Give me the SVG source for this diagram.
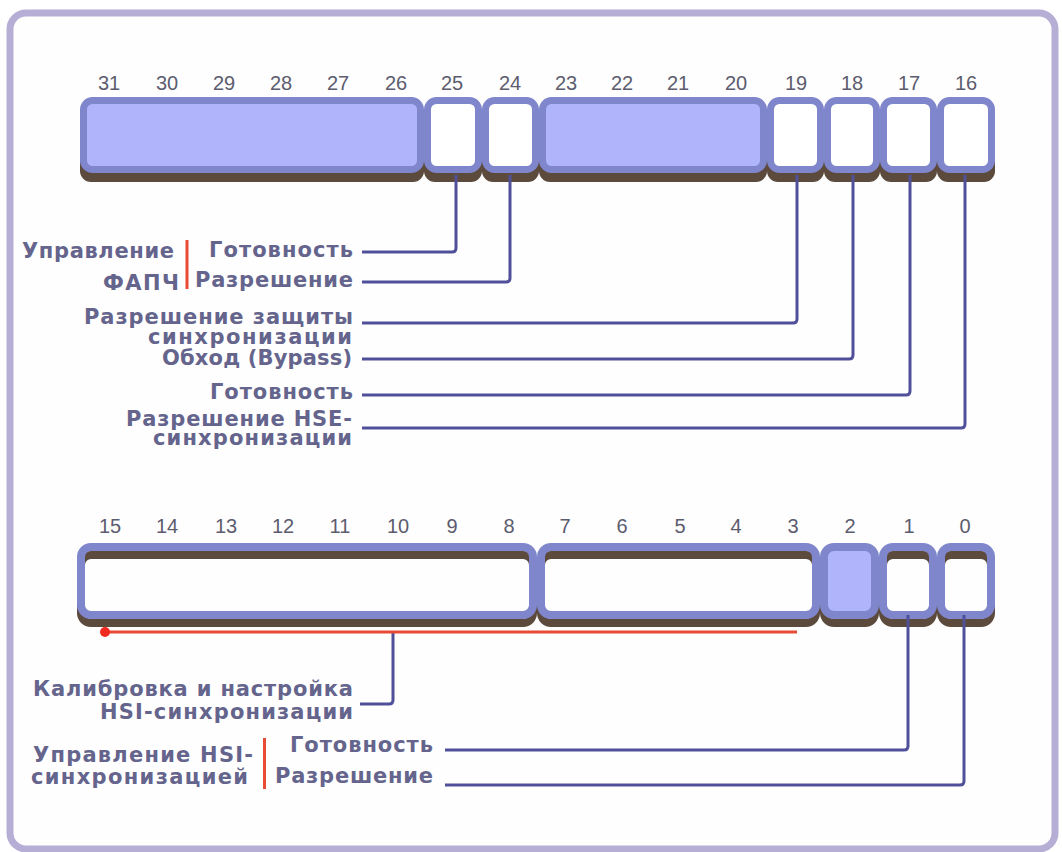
<svg xmlns="http://www.w3.org/2000/svg" width="1062" height="852" viewBox="0 0 1062 852">
<style>
.num{font-family:"Liberation Sans",Arial,sans-serif;font-size:20px;fill:#5c5c6e;text-anchor:middle}
.lbl{font-family:"DejaVu Sans","Liberation Sans",sans-serif;font-size:21px;font-weight:bold;fill:#64648c}
.sh{fill:#5c4a3c}
.shr{fill:none;stroke:#5c4a3c;stroke-width:8}
.bx{stroke:#7f86cc;stroke-width:7}
.bxr{stroke:#7f86cc;stroke-width:8}
.w{fill:#ffffff}
.l{fill:#b0b4fa}
.n{fill:none}
.con{fill:none;stroke:#50509a;stroke-width:3;stroke-linejoin:round}
.red{fill:none;stroke:#e84a34;stroke-width:3}
</style>
<rect x="0" y="0" width="1062" height="852" fill="#ffffff"/>
<rect id="frame" x="10" y="13" width="1045" height="836" rx="16" fill="#fefefe" stroke="#b7aed5" stroke-width="7"/>

<g id="top-numbers">
<text class="num" x="109" y="90">31</text><text class="num" x="167" y="90">30</text><text class="num" x="224" y="90">29</text><text class="num" x="281" y="90">28</text>
<text class="num" x="338" y="90">27</text><text class="num" x="396" y="90">26</text><text class="num" x="452" y="90">25</text><text class="num" x="510" y="90">24</text>
<text class="num" x="566" y="90">23</text><text class="num" x="622" y="90">22</text><text class="num" x="678" y="90">21</text><text class="num" x="736" y="90">20</text>
<text class="num" x="796" y="90">19</text><text class="num" x="852" y="90">18</text><text class="num" x="909" y="90">17</text><text class="num" x="966" y="90">16</text>
</g>

<g id="top-shadows">
<rect class="sh" x="80" y="106" width="344" height="76" rx="11"/>
<rect class="sh" x="424" y="106" width="58" height="76" rx="11"/>
<rect class="sh" x="482" y="106" width="57" height="76" rx="11"/>
<rect class="sh" x="539" y="106" width="228" height="76" rx="11"/>
<rect class="sh" x="767" y="106" width="57" height="76" rx="11"/>
<rect class="sh" x="824" y="106" width="56" height="76" rx="11"/>
<rect class="sh" x="880" y="106" width="57" height="76" rx="11"/>
<rect class="sh" x="937" y="106" width="58" height="76" rx="11"/>
</g>
<g id="bits-31-26"><rect class="bx l" x="83.5" y="100.5" width="337" height="69" rx="9"/></g>
<g id="bit-25"><rect class="bx w" x="427.5" y="100.5" width="51" height="69" rx="9"/></g>
<g id="bit-24"><rect class="bx w" x="485.5" y="100.5" width="50" height="69" rx="9"/></g>
<g id="bits-23-20"><rect class="bx l" x="542.5" y="100.5" width="221" height="69" rx="9"/></g>
<g id="bit-19"><rect class="bx w" x="770.5" y="100.5" width="50" height="69" rx="9"/></g>
<g id="bit-18"><rect class="bx w" x="827.5" y="100.5" width="49" height="69" rx="9"/></g>
<g id="bit-17"><rect class="bx w" x="883.5" y="100.5" width="50" height="69" rx="9"/></g>
<g id="bit-16"><rect class="bx w" x="940.5" y="100.5" width="51" height="69" rx="9"/></g>

<g id="bottom-numbers">
<text class="num" x="110" y="533">15</text><text class="num" x="167" y="533">14</text><text class="num" x="226" y="533">13</text><text class="num" x="283" y="533">12</text>
<text class="num" x="340" y="533">11</text><text class="num" x="398" y="533">10</text><text class="num" x="452" y="533">9</text><text class="num" x="509" y="533">8</text>
<text class="num" x="565" y="533">7</text><text class="num" x="622" y="533">6</text><text class="num" x="680" y="533">5</text><text class="num" x="736" y="533">4</text>
<text class="num" x="793" y="533">3</text><text class="num" x="850" y="533">2</text><text class="num" x="909" y="533">1</text><text class="num" x="965" y="533">0</text>
</g>

<g id="bottom-shadows">
<rect class="shr" x="81" y="555" width="452" height="68" rx="10"/>
<rect class="shr" x="541" y="555" width="275" height="68" rx="10"/>
<rect class="shr" x="824" y="555" width="51" height="68" rx="10"/>
<rect class="shr" x="883" y="555" width="50" height="68" rx="10"/>
<rect class="shr" x="941" y="555" width="50" height="68" rx="10"/>
</g>
<g id="bits-15-8"><rect class="bxr n" x="81" y="547" width="452" height="68" rx="10"/></g>
<g id="bits-7-3"><rect class="bxr n" x="541" y="547" width="275" height="68" rx="10"/></g>
<g id="bit-2"><rect class="bxr l" x="824" y="547" width="51" height="68" rx="10"/></g>
<g id="bit-1"><rect class="bxr n" x="883" y="547" width="50" height="68" rx="10"/></g>
<g id="bit-0"><rect class="bxr n" x="941" y="547" width="50" height="68" rx="10"/></g>

<g id="connectors">
<path class="con" d="M456,175 V248 Q456,252 452,252 H362"/>
<path class="con" d="M510,175 V278 Q510,282 506,282 H362"/>
<path class="con" d="M797,175 V319 Q797,323 793,323 H362"/>
<path class="con" d="M853,175 V355 Q853,359 849,359 H362"/>
<path class="con" d="M910,175 V391 Q910,395 906,395 H362"/>
<path class="con" d="M965,175 V424 Q965,428 961,428 H362"/>
<path class="con" d="M393,632 V700 Q393,704 389,704 H360"/>
<path class="con" d="M908,615 V746 Q908,750 904,750 H445"/>
<path class="con" d="M964,615 V781 Q964,785 960,785 H445"/>
<path class="red" d="M105,632 H797"/>
<circle cx="105" cy="632" r="5" fill="#f02a20"/>
<path class="red" d="M187,240 V289"/>
<path class="red" d="M264.5,738 V789"/>
</g>

<g id="label-pll">
<text class="lbl" x="22" y="258" textLength="152">Управление</text>
<text class="lbl" x="103" y="290" textLength="76">ФАПЧ</text>
</g>
<g id="label-pll-ready"><text class="lbl" x="209" y="257" textLength="144">Готовность</text></g>
<g id="label-pll-enable"><text class="lbl" x="195" y="287" textLength="158">Разрешение</text></g>
<g id="label-css">
<text class="lbl" x="84" y="324" textLength="269">Разрешение защиты</text>
<text class="lbl" x="148" y="344" textLength="204">синхронизации</text>
</g>
<g id="label-bypass"><text class="lbl" x="162" y="365" textLength="190">Обход (Bypass)</text></g>
<g id="label-hse-ready"><text class="lbl" x="210" y="399" textLength="143">Готовность</text></g>
<g id="label-hse-enable">
<text class="lbl" x="126" y="426" textLength="226">Разрешение HSE-</text>
<text class="lbl" x="153" y="445" textLength="199">синхронизации</text>
</g>
<g id="label-hsi-cal">
<text class="lbl" x="33" y="696" textLength="320">Калибровка и настройка</text>
<text class="lbl" x="100" y="719" textLength="253">HSI-синхронизации</text>
</g>
<g id="label-hsi">
<text class="lbl" x="33" y="762" textLength="220">Управление HSI-</text>
<text class="lbl" x="31" y="784" textLength="217">синхронизацией</text>
</g>
<g id="label-hsi-ready"><text class="lbl" x="290" y="752" textLength="143">Готовность</text></g>
<g id="label-hsi-enable"><text class="lbl" x="275" y="783" textLength="158">Разрешение</text></g>
</svg>
